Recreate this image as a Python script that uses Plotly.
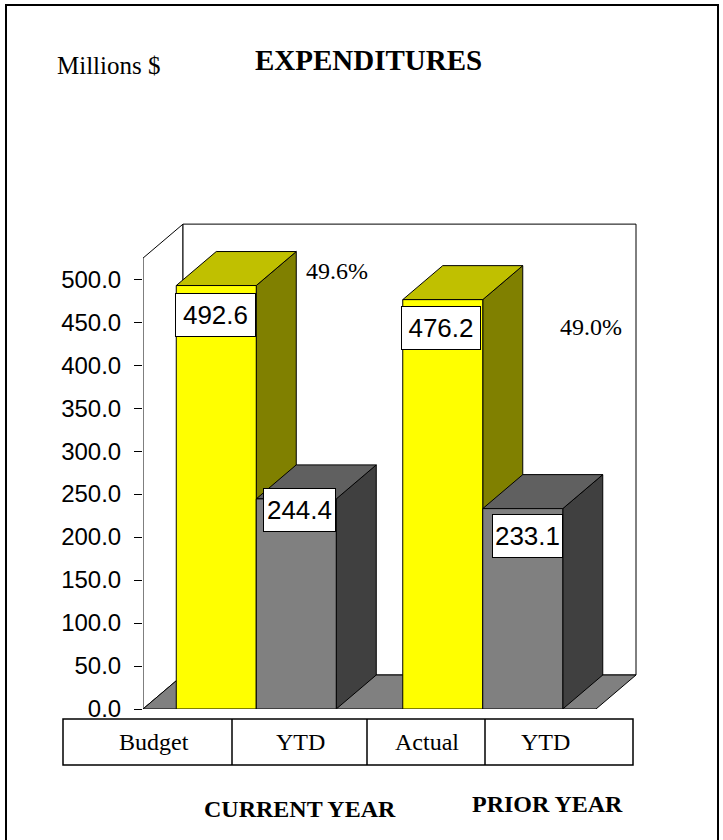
import plotly.graph_objects as go

# ---------------- data ----------------
groups = ["CURRENT YEAR", "PRIOR YEAR"]
cell_labels = ["Budget", "YTD", "Actual", "YTD"]
full_values = [492.6, 476.2]      # Budget (current year) / Actual (prior year)
ytd_values = [244.4, 233.1]       # YTD
pct_labels = ["49.6%", "49.0%"]
y_ticks = [0, 50, 100, 150, 200, 250, 300, 350, 400, 450, 500]

# ---------------- geometry / styles ----------------
W, H = 723, 840
L, R, T, B = 143, 82, 219, 131
PXX = 226.5                      # px per category
XMAX = (W - L - R) / PXX
YMAX = 570
PXY = (H - T - B) / YMAX
DX = 40 / PXX                    # 3D depth in x data units
DY = 34 / PXY                    # 3D depth in y data units
BAR_W = 80 / PXX
CENTERS = [0.5, 1.5]
FLOOR_END = 2.0
WALL_TOP = 524.5

SERIF = "Liberation Serif"
SANS = "Liberation Sans"

YEL = dict(front="#FFFF00", top="#C0C000", side="#808000")
GRY = dict(front="#808080", top="#606060", side="#404040")


def px_x(p):
    return (p - L) / (W - L - R)


def px_y(p):
    return (H - B - p) / (H - T - B)


fig = go.Figure()


def poly(pts, fill, width=1):
    xs = [p[0] for p in pts] + [pts[0][0]]
    ys = [p[1] for p in pts] + [pts[0][1]]
    fig.add_trace(go.Scatter(
        x=xs, y=ys, mode="lines", fill="toself", fillcolor=fill,
        line=dict(color="black", width=width), hoverinfo="skip",
        showlegend=False, cliponaxis=False))


def box3d(x0, x1, v, col):
    poly([(x1, 0), (x1 + DX, DY), (x1 + DX, v + DY), (x1, v)], col["side"])
    poly([(x0, v), (x1, v), (x1 + DX, v + DY), (x0 + DX, v + DY)], col["top"])
    poly([(x0, 0), (x1, 0), (x1, v), (x0, v)], col["front"])


# walls
poly([(0, 0), (0, WALL_TOP), (DX, WALL_TOP + DY), (DX, DY)], "white")
poly([(DX, DY), (DX, WALL_TOP + DY), (FLOOR_END + DX, WALL_TOP + DY),
      (FLOOR_END + DX, DY)], "white")
# floor
poly([(0, 0), (FLOOR_END, 0), (FLOOR_END + DX, DY), (DX, DY)], "#808080")

# bars
for c, fv, yv in zip(CENTERS, full_values, ytd_values):
    box3d(c - BAR_W, c, fv, YEL)
    box3d(c, c + BAR_W, yv, GRY)

annotations = []

# value labels in boxes
label_xshift = [-1, 3, -2, 5]
label_yshift = [-29.5, -11, -28, -27.5]
label_w = [79, 71, 78, 69]
k = 0
for c, fv, yv in zip(CENTERS, full_values, ytd_values):
    for xc, v in ((c - BAR_W / 2, fv), (c + BAR_W / 2, yv)):
        annotations.append(dict(
            x=xc, y=v, xref="x", yref="y", text=f"{v:.1f}", showarrow=False,
            xshift=label_xshift[k], yshift=label_yshift[k],
            xanchor="center", yanchor="middle",
            width=label_w[k], height=42, borderpad=0,
            bgcolor="white", bordercolor="black", borderwidth=1,
            font=dict(family=SANS, size=26, color="black")))
        k += 1

# percentage labels
pct_pos = [(337, 271), (591, 327)]
for t, (px, py) in zip(pct_labels, pct_pos):
    annotations.append(dict(x=px_x(px), y=px_y(py), xref="paper", yref="paper",
                            text=t, showarrow=False, xanchor="center",
                            yanchor="middle",
                            font=dict(family=SERIF, size=24, color="black")))

# titles
annotations.append(dict(x=px_x(55), y=px_y(65), xref="paper", yref="paper",
                        text="Millions $", showarrow=False, xanchor="left",
                        yanchor="middle",
                        font=dict(family=SERIF, size=25, color="black")))
annotations.append(dict(x=px_x(368), y=px_y(60), xref="paper", yref="paper",
                        text="<b>EXPENDITURES</b>", showarrow=False,
                        xanchor="center", yanchor="middle",
                        font=dict(family=SERIF, size=29, color="black")))

# table labels
cell_centers = [154, 300, 427, 545]
for t, cx in zip(cell_labels, cell_centers):
    annotations.append(dict(x=px_x(cx), y=px_y(742), xref="paper", yref="paper",
                            text=t, showarrow=False, xanchor="center",
                            yanchor="middle",
                            font=dict(family=SERIF, size=24, color="black")))

group_pos = [(300, 809), (547, 804)]
for g, (gx, gy) in zip(groups, group_pos):
    annotations.append(dict(x=px_x(gx), y=px_y(gy), xref="paper", yref="paper",
                            text=f"<b>{g}</b>", showarrow=False,
                            xanchor="center", yanchor="middle",
                            font=dict(family=SERIF, size=24, color="black")))

shapes = []
# table
cell_edges = [63, 232, 367, 485, 633]
shapes.append(dict(type="rect", xref="paper", yref="paper",
                   x0=px_x(cell_edges[0]), x1=px_x(cell_edges[-1]),
                   y0=px_y(765), y1=px_y(719),
                   line=dict(color="black", width=1.5)))
for e in cell_edges[1:-1]:
    shapes.append(dict(type="line", xref="paper", yref="paper",
                       x0=px_x(e), x1=px_x(e), y0=px_y(765), y1=px_y(719),
                       line=dict(color="black", width=1.5)))
# outer frame
shapes.append(dict(type="rect", xref="paper", yref="paper",
                   x0=px_x(6), x1=px_x(718), y0=px_y(850), y1=px_y(5),
                   line=dict(color="black", width=2)))

fig.update_layout(
    width=W, height=H,
    margin=dict(l=L, r=R, t=T, b=B, pad=0),
    paper_bgcolor="white", plot_bgcolor="white",
    showlegend=False, hovermode=False,
    xaxis=dict(range=[0, XMAX], visible=False, fixedrange=True),
    yaxis=dict(range=[0, YMAX], tickvals=y_ticks,
               ticktext=[f"{v:.1f}" for v in y_ticks],
               ticks="outside", ticklen=8, tickcolor="black", tickwidth=1,
               showgrid=False, zeroline=False, showline=False,
               ticklabelstandoff=8,
               tickfont=dict(family=SANS, size=24, color="black"),
               fixedrange=True),
    annotations=annotations,
    shapes=shapes,
)

fig.write_html("out.html", config=dict(displayModeBar=False))
